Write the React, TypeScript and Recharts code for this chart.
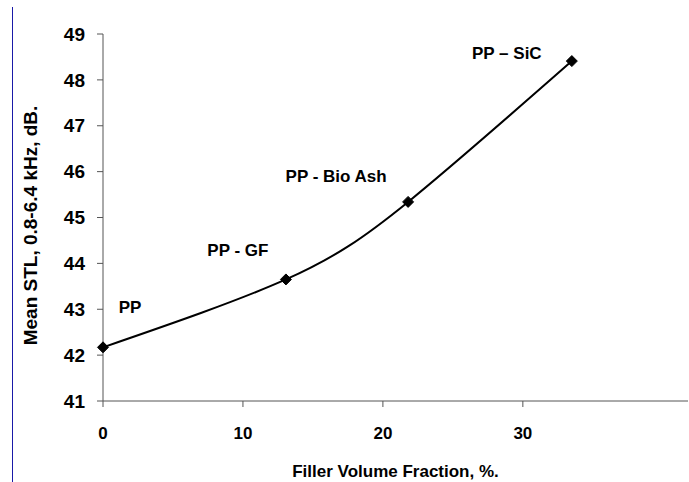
import React from "react";
import { LineChart, Line, XAxis, YAxis, Label, LabelList } from "recharts";

const fillerFraction = [0, 13.07, 21.8, 33.5];
const meanStl = [42.17, 43.65, 45.34, 48.41];
const blendNames = ["PP", "PP - GF", "PP - Bio Ash", "PP \u2013 SiC"];
const xTicks = [0, 10, 20, 30];
const yTicks = [41, 42, 43, 44, 45, 46, 47, 48, 49];

const data = fillerFraction.map((x, i) => ({ x, y: meanStl[i], name: blendNames[i] }));

// label offsets relative to each marker
const labelShift = [
  { dx: 27, dy: -40 },
  { dx: -48, dy: -29 },
  { dx: -72, dy: -25 },
  { dx: -65, dy: -8 },
];

const font = "'Liberation Sans', Arial, sans-serif";

function Diamond(props: any) {
  const { cx, cy, index } = props;
  if (cx == null || cy == null) return null;
  const r = 5.5;
  return (
    <path
      key={`d-${index}`}
      d={`M${cx},${cy - r}L${cx + r},${cy}L${cx},${cy + r}L${cx - r},${cy}Z`}
      fill="#000"
      stroke="#000"
    />
  );
}

function BlendLabel(props: any) {
  const { x, y, index, value } = props;
  const s = labelShift[index] || { dx: 0, dy: 0 };
  return (
    <text
      x={x + s.dx}
      y={y + s.dy}
      textAnchor="middle"
      dominantBaseline="central"
      fontFamily={font}
      fontWeight="bold"
      fontSize={17}
      fill="#000"
    >
      {value}
    </text>
  );
}

function YTitle(props: any) {
  const { viewBox } = props;
  const cx = 30;
  const cy = viewBox.y + viewBox.height / 2 + 8;
  return (
    <text
      x={cx}
      y={cy}
      transform={`rotate(-90 ${cx} ${cy})`}
      textAnchor="middle"
      dominantBaseline="central"
      fontFamily={font}
      fontWeight="bold"
      fontSize={19}
      fill="#000"
    >
      Mean STL, 0.8-6.4 kHz, dB.
    </text>
  );
}

export default function App() {
  return (
    <div style={{ position: "absolute", top: 0, left: 0, width: 689, height: 482, background: "#fff" }}>
      <div style={{ position: "absolute", left: 12, top: 7, width: 1, height: 475, background: "#1a1aa8" }} />
      <LineChart width={689} height={482} data={data} margin={{ top: 34, right: 1, bottom: 31, left: 0 }}>
        <XAxis
          dataKey="x"
          type="number"
          domain={[0, 41.8]}
          ticks={xTicks}
          stroke="#555"
          tickSize={6}
          tickMargin={20}
          tick={{ fontFamily: font, fontWeight: "bold", fontSize: 17, fill: "#000" }}
          height={50}
        >
          <Label
            value="Filler Volume Fraction, %."
            position="insideBottom"
            offset={-26}
            style={{ fontFamily: font, fontWeight: "bold", fontSize: 17, fill: "#000" }}
          />
        </XAxis>
        <YAxis
          type="number"
          domain={[41, 49]}
          ticks={yTicks}
          stroke="#555"
          tickSize={6}
          tickMargin={12}
          tick={{ fontFamily: font, fontWeight: "bold", fontSize: 19, fill: "#000" }}
          width={103}
        >
          <Label content={<YTitle />} />
        </YAxis>
        <Line
          dataKey="y"
          type="natural"
          stroke="#000"
          strokeWidth={2}
          dot={<Diamond />}
          activeDot={false}
          isAnimationActive={false}
        >
          <LabelList dataKey="name" content={<BlendLabel />} />
        </Line>
      </LineChart>
    </div>
  );
}
